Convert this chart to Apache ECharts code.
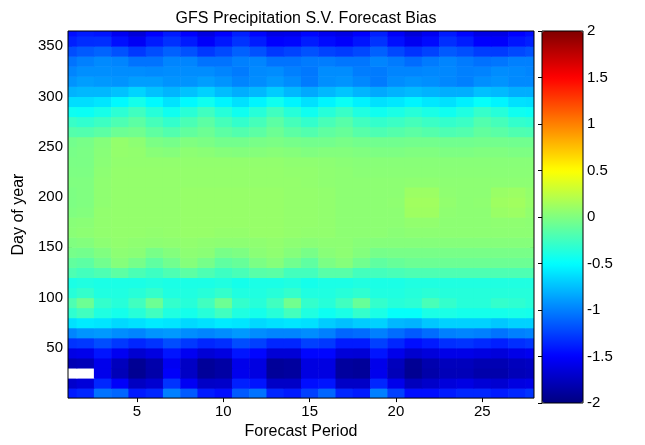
<!DOCTYPE html>
<html><head><meta charset="utf-8">
<script src="https://cdn.jsdelivr.net/npm/echarts@6/dist/echarts.min.js"></script>
<style>html,body{margin:0;padding:0;background:#fff}#c{width:645px;height:445px}</style>
</head><body><div id="c"></div>
<script>
// ---------- data ----------
const forecastPeriods = [1,2,3,4,5,6,7,8,9,10,11,12,13,14,15,16,17,18,19,20,21,22,23,24,25,26,27,28];
const dayOfYear = [5,15,25,35,45,55,65,75,85,95,105,115,125,135,145,155,165,175,185,195,205,215,225,235,245,255,265,275,285,295,305,315,325,335,345,355,365];
// one row per dayOfYear entry, one value per forecast period
const biasRows = [
[-1.4,-1.35,-1.05,-1.1,-1.4,-1.35,-1.0,-1.15,-1.4,-1.45,-1.15,-1.05,-1.35,-1.4,-1.25,-1.1,-1.35,-1.4,-1.0,-1.25,-1.45,-1.45,-1.4,-1.35,-1.35,-1.4,-1.35,-1.3],
[-1.7,-1.65,-1.35,-1.52,-1.74,-1.68,-1.3,-1.54,-1.72,-1.71,-1.38,-1.42,-1.72,-1.72,-1.45,-1.42,-1.72,-1.72,-1.35,-1.58,-1.76,-1.71,-1.64,-1.61,-1.66,-1.68,-1.62,-1.6],
[-2.2,-2.05,-1.58,-1.78,-1.93,-1.84,-1.52,-1.73,-1.9,-1.86,-1.57,-1.62,-1.9,-1.88,-1.62,-1.62,-1.88,-1.9,-1.57,-1.78,-1.93,-1.84,-1.78,-1.78,-1.83,-1.83,-1.78,-1.76],
[-1.8,-1.78,-1.58,-1.76,-1.92,-1.83,-1.55,-1.73,-1.9,-1.86,-1.58,-1.62,-1.9,-1.88,-1.62,-1.62,-1.88,-1.9,-1.58,-1.76,-1.92,-1.82,-1.76,-1.76,-1.8,-1.8,-1.76,-1.74],
[-1.6,-1.58,-1.42,-1.55,-1.68,-1.62,-1.42,-1.55,-1.66,-1.62,-1.42,-1.48,-1.66,-1.66,-1.48,-1.48,-1.65,-1.66,-1.42,-1.58,-1.69,-1.64,-1.59,-1.59,-1.62,-1.64,-1.59,-1.56],
[-1.3,-1.28,-1.2,-1.28,-1.35,-1.3,-1.2,-1.28,-1.35,-1.32,-1.2,-1.25,-1.35,-1.35,-1.25,-1.28,-1.4,-1.4,-1.25,-1.35,-1.45,-1.4,-1.32,-1.3,-1.34,-1.38,-1.32,-1.29],
[-0.98,-0.92,-0.9,-0.95,-0.98,-0.92,-0.9,-0.95,-0.98,-0.95,-0.9,-0.95,-0.98,-0.98,-0.95,-1.0,-1.1,-1.08,-1.0,-1.08,-1.15,-1.08,-1.0,-0.98,-1.0,-1.05,-1.0,-0.98],
[-0.62,-0.58,-0.6,-0.65,-0.62,-0.58,-0.6,-0.65,-0.62,-0.58,-0.6,-0.65,-0.62,-0.6,-0.62,-0.7,-0.75,-0.7,-0.68,-0.78,-0.8,-0.72,-0.68,-0.68,-0.68,-0.72,-0.68,-0.68],
[-0.32,-0.25,-0.38,-0.42,-0.35,-0.25,-0.38,-0.42,-0.35,-0.25,-0.38,-0.42,-0.35,-0.24,-0.38,-0.45,-0.4,-0.3,-0.4,-0.48,-0.48,-0.4,-0.4,-0.42,-0.42,-0.42,-0.41,-0.42],
[-0.2,-0.08,-0.3,-0.35,-0.25,-0.08,-0.3,-0.35,-0.25,-0.08,-0.3,-0.35,-0.25,-0.06,-0.3,-0.35,-0.25,-0.1,-0.3,-0.35,-0.33,-0.22,-0.3,-0.35,-0.35,-0.3,-0.32,-0.35],
[-0.35,-0.3,-0.38,-0.38,-0.35,-0.3,-0.38,-0.38,-0.35,-0.3,-0.38,-0.38,-0.35,-0.3,-0.38,-0.38,-0.35,-0.32,-0.38,-0.38,-0.36,-0.34,-0.36,-0.36,-0.36,-0.36,-0.36,-0.36],
[-0.4,-0.38,-0.4,-0.4,-0.4,-0.38,-0.4,-0.4,-0.4,-0.38,-0.42,-0.4,-0.4,-0.38,-0.42,-0.4,-0.4,-0.38,-0.4,-0.4,-0.38,-0.38,-0.38,-0.38,-0.38,-0.38,-0.38,-0.38],
[-0.2,-0.24,-0.2,-0.14,-0.21,-0.26,-0.2,-0.14,-0.2,-0.26,-0.22,-0.16,-0.15,-0.24,-0.24,-0.16,-0.16,-0.24,-0.24,-0.22,-0.2,-0.2,-0.2,-0.2,-0.2,-0.2,-0.2,-0.2],
[-0.12,-0.14,-0.06,0.02,-0.04,-0.13,-0.06,0.02,-0.04,-0.13,-0.1,-0.02,0.02,-0.06,-0.13,-0.02,0.02,-0.06,-0.13,-0.1,-0.08,-0.08,-0.08,-0.08,-0.08,-0.08,-0.08,-0.08],
[-0.04,-0.05,0.0,0.05,0.04,-0.03,0.01,0.05,0.04,-0.03,-0.01,0.04,0.06,0.02,-0.03,0.03,0.05,0.01,-0.04,-0.03,-0.03,-0.03,-0.03,-0.03,-0.03,-0.03,-0.03,-0.03],
[0.0,0.01,0.05,0.07,0.06,0.05,0.06,0.07,0.06,0.05,0.05,0.06,0.07,0.05,0.04,0.05,0.05,0.03,0.02,0.02,0.02,0.02,0.02,0.02,0.02,0.02,0.02,0.02],
[0.04,0.05,0.07,0.08,0.08,0.07,0.08,0.09,0.09,0.08,0.08,0.09,0.09,0.08,0.07,0.07,0.05,0.05,0.05,0.04,0.05,0.05,0.05,0.05,0.05,0.05,0.05,0.05],
[0.03,0.04,0.07,0.08,0.08,0.08,0.08,0.09,0.09,0.09,0.09,0.09,0.09,0.08,0.08,0.07,0.05,0.05,0.05,0.05,0.07,0.07,0.05,0.05,0.05,0.06,0.06,0.05],
[0.0,0.01,0.07,0.08,0.08,0.08,0.08,0.09,0.09,0.09,0.09,0.09,0.09,0.08,0.08,0.07,0.05,0.05,0.05,0.05,0.12,0.12,0.06,0.05,0.05,0.1,0.11,0.07],
[-0.01,0.0,0.06,0.08,0.08,0.08,0.08,0.09,0.09,0.09,0.09,0.09,0.09,0.08,0.08,0.07,0.05,0.05,0.05,0.06,0.13,0.13,0.07,0.05,0.06,0.12,0.13,0.09],
[-0.01,0.0,0.06,0.08,0.08,0.08,0.08,0.09,0.09,0.09,0.09,0.09,0.09,0.08,0.08,0.07,0.05,0.05,0.05,0.05,0.11,0.11,0.06,0.05,0.05,0.1,0.11,0.08],
[0.0,0.0,0.06,0.08,0.08,0.08,0.08,0.08,0.08,0.08,0.08,0.08,0.08,0.08,0.07,0.06,0.05,0.05,0.05,0.05,0.06,0.06,0.05,0.05,0.05,0.05,0.05,0.05],
[-0.01,-0.01,0.05,0.08,0.08,0.08,0.08,0.08,0.08,0.08,0.08,0.08,0.08,0.07,0.07,0.06,0.05,0.04,0.04,0.04,0.04,0.04,0.04,0.04,0.04,0.04,0.04,0.04],
[-0.02,-0.02,0.04,0.07,0.07,0.07,0.07,0.07,0.07,0.07,0.07,0.07,0.07,0.06,0.06,0.05,0.04,0.03,0.03,0.03,0.03,0.03,0.03,0.03,0.03,0.03,0.03,0.03],
[-0.03,-0.02,0.03,0.08,0.07,0.03,0.02,0.05,0.04,0.02,0.01,0.02,0.03,0.02,0.0,0.01,0.01,0.0,-0.01,-0.01,0.0,0.0,-0.01,-0.01,0.0,0.0,-0.01,-0.01],
[-0.05,-0.03,0.02,0.08,0.05,-0.02,-0.04,0.0,-0.02,-0.05,-0.05,-0.03,-0.02,-0.04,-0.05,-0.05,-0.03,-0.05,-0.06,-0.06,-0.05,-0.05,-0.06,-0.06,-0.05,-0.05,-0.06,-0.06],
[-0.17,-0.18,-0.14,-0.08,-0.06,-0.13,-0.18,-0.12,-0.08,-0.14,-0.18,-0.14,-0.08,-0.14,-0.18,-0.13,-0.1,-0.16,-0.2,-0.17,-0.14,-0.17,-0.2,-0.18,-0.12,-0.15,-0.19,-0.2],
[-0.28,-0.31,-0.26,-0.2,-0.14,-0.23,-0.3,-0.21,-0.14,-0.23,-0.3,-0.23,-0.14,-0.23,-0.3,-0.22,-0.16,-0.25,-0.3,-0.27,-0.23,-0.27,-0.3,-0.27,-0.18,-0.23,-0.3,-0.32],
[-0.45,-0.46,-0.41,-0.33,-0.25,-0.35,-0.44,-0.34,-0.25,-0.35,-0.44,-0.35,-0.25,-0.35,-0.44,-0.35,-0.28,-0.38,-0.44,-0.4,-0.35,-0.4,-0.44,-0.38,-0.29,-0.35,-0.44,-0.46],
[-0.63,-0.63,-0.6,-0.52,-0.42,-0.52,-0.61,-0.52,-0.44,-0.54,-0.62,-0.54,-0.44,-0.54,-0.62,-0.54,-0.46,-0.55,-0.62,-0.59,-0.54,-0.59,-0.62,-0.56,-0.48,-0.54,-0.62,-0.63],
[-0.8,-0.78,-0.78,-0.74,-0.67,-0.74,-0.79,-0.74,-0.68,-0.76,-0.82,-0.78,-0.7,-0.78,-0.84,-0.78,-0.73,-0.79,-0.84,-0.8,-0.77,-0.8,-0.82,-0.82,-0.75,-0.77,-0.82,-0.82],
[-0.92,-0.88,-0.9,-0.92,-0.88,-0.88,-0.92,-0.92,-0.88,-0.92,-0.98,-0.95,-0.9,-0.95,-1.02,-0.94,-0.92,-0.97,-1.02,-0.95,-0.92,-0.94,-0.97,-1.0,-0.94,-0.92,-0.96,-0.96],
[-0.98,-0.94,-0.94,-0.95,-0.95,-0.96,-0.95,-0.95,-0.95,-0.98,-1.02,-0.96,-0.95,-1.0,-1.03,-0.95,-0.95,-1.01,-1.02,-0.98,-0.98,-0.97,-0.97,-1.0,-0.99,-0.95,-0.96,-0.98],
[-1.05,-1.0,-0.96,-0.98,-1.05,-1.05,-0.98,-0.98,-1.05,-1.05,-1.0,-0.98,-1.05,-1.05,-1.02,-1.01,-1.04,-1.04,-0.98,-1.02,-1.08,-1.02,-0.98,-1.02,-1.06,-1.04,-1.0,-1.0],
[-1.2,-1.15,-1.11,-1.18,-1.28,-1.2,-1.12,-1.18,-1.28,-1.21,-1.12,-1.18,-1.28,-1.24,-1.18,-1.24,-1.27,-1.22,-1.12,-1.22,-1.3,-1.24,-1.15,-1.19,-1.26,-1.27,-1.22,-1.18],
[-1.38,-1.33,-1.32,-1.44,-1.54,-1.4,-1.31,-1.4,-1.52,-1.41,-1.3,-1.39,-1.5,-1.48,-1.39,-1.46,-1.51,-1.42,-1.3,-1.44,-1.55,-1.46,-1.32,-1.39,-1.5,-1.51,-1.42,-1.38],
[-1.45,-1.4,-1.42,-1.55,-1.65,-1.5,-1.4,-1.5,-1.62,-1.5,-1.38,-1.48,-1.6,-1.58,-1.48,-1.55,-1.6,-1.5,-1.38,-1.52,-1.65,-1.55,-1.4,-1.48,-1.6,-1.6,-1.5,-1.45]
];
const xTickValues = [5,10,15,20,25];
const yTickValues = [50,100,150,200,250,300,350];
const colorbarMin = -2, colorbarMax = 2, colorbarStep = 0.5;
const jetColors = ['#000080','#0000ff','#0080ff','#00ffff','#80ff80','#ffff00','#ff8000','#ff0000','#800000'];

// ---------- build ----------
const cells = [];
dayOfYear.forEach((d, i) => forecastPeriods.forEach((p, j) => cells.push([p, d, biasRows[i][j]])));

const FONT = 'Liberation Sans, Arial, Helvetica, sans-serif';
const tickTxt = { color: '#000', fontFamily: FONT, fontSize: 15 };
const nameTxt = { color: '#000', fontFamily: FONT, fontSize: 16 };
const halfX = 0.5, halfY = 5;

function renderCell(params, api) {
  const p = api.value(0), d = api.value(1), v = api.value(2);
  const a = api.coord([p - halfX, d - halfY]);
  const b = api.coord([p + halfX, d + halfY]);
  return {
    type: 'rect',
    shape: { x: a[0], y: b[1], width: b[0] - a[0] + 0.6, height: a[1] - b[1] + 0.6 },
    style: { fill: v < colorbarMin ? '#ffffff' : api.visual('color') }
  };
}

const chart = echarts.init(document.getElementById('c'), null, { renderer: 'canvas' });
const tickInside = { show: true, inside: true, length: 4, lineStyle: { color: '#000' } };
chart.setOption({
  animation: false,
  backgroundColor: '#fff',
  title: {
    text: 'GFS Precipitation S.V. Forecast Bias',
    left: 301, top: 6, textAlign: 'center',
    textStyle: { color: '#000', fontFamily: FONT, fontSize: 16, fontWeight: 'normal' }
  },
  grid: [
    { left: 68, top: 31, width: 466, height: 372, show: true, borderColor: '#000', borderWidth: 1, backgroundColor: 'transparent', z: 10 },
    { left: 542, top: 31, width: 41, height: 372, show: true, borderColor: '#000', borderWidth: 1, backgroundColor: 'transparent', z: 10 }
  ],
  xAxis: [
    { type: 'value', gridIndex: 0, min: 1, max: 28, position: 'bottom',
      name: 'Forecast Period', nameLocation: 'middle', nameGap: 23, nameTextStyle: nameTxt,
      axisLine: { show: false }, splitLine: { show: false },
      axisTick: Object.assign({ customValues: xTickValues }, tickInside),
      axisLabel: Object.assign({ customValues: xTickValues, margin: 6 }, tickTxt) },
    { type: 'value', gridIndex: 0, min: 1, max: 28, position: 'top',
      axisLine: { show: false }, splitLine: { show: false },
      axisTick: Object.assign({ customValues: xTickValues }, tickInside),
      axisLabel: { show: false } },
    { type: 'value', gridIndex: 1, min: 0, max: 1, show: false }
  ],
  yAxis: [
    { type: 'value', gridIndex: 0, min: 0, max: 365, position: 'left',
      name: 'Day of year', nameLocation: 'middle', nameGap: 40, nameTextStyle: nameTxt,
      axisLine: { show: false }, splitLine: { show: false },
      axisTick: Object.assign({ customValues: yTickValues }, tickInside),
      axisLabel: Object.assign({ customValues: yTickValues, margin: 5 }, tickTxt) },
    { type: 'value', gridIndex: 0, min: 0, max: 365, position: 'right',
      axisLine: { show: false }, splitLine: { show: false },
      axisTick: Object.assign({ customValues: yTickValues }, tickInside),
      axisLabel: { show: false } },
    { type: 'value', gridIndex: 1, min: colorbarMin, max: colorbarMax, interval: colorbarStep, position: 'right',
      axisLine: { show: false }, splitLine: { show: false },
      axisTick: tickInside,
      axisLabel: Object.assign({ margin: 4 }, tickTxt) }
  ],
  visualMap: {
    type: 'continuous', min: colorbarMin, max: colorbarMax, seriesIndex: 0, dimension: 2,
    inRange: { color: jetColors }, outOfRange: { color: '#ffffff' },
    calculable: false, hoverLink: false, orient: 'vertical',
    left: 542, top: 31, itemWidth: 41, itemHeight: 372, padding: 0, text: null, z: 4
  },
  series: [{
    type: 'custom', xAxisIndex: 0, yAxisIndex: 0, clip: true,
    renderItem: renderCell, data: cells, silent: true
  }]
});
</script></body></html>
